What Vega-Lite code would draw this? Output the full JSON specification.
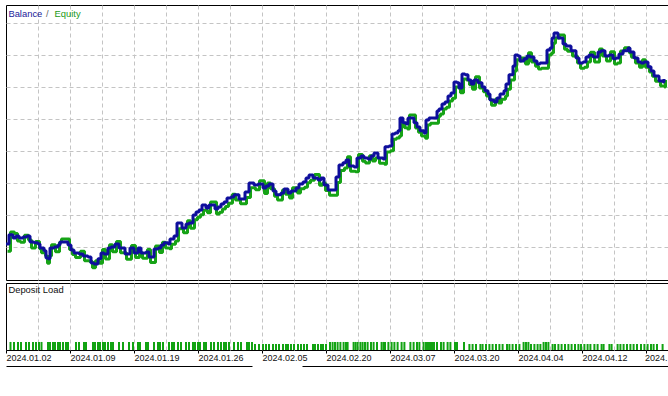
{
  "$schema": "https://vega.github.io/schema/vega-lite/v6.json",
  "padding": {"left": 5, "top": 4, "right": 0, "bottom": 0},
  "background": "white",
  "spacing": 1,
  "config": {
    "view": {"stroke": "#000000", "strokeWidth": 1},
    "axis": {"gridColor": "#c4c4c4", "gridDash": [4, 3], "gridWidth": 1, "labelOverlap": false},
    "scale": {"continuousPadding": 0},
    "font": "Liberation Sans"
  },
  "resolve": {"scale": {"x": "independent", "y": "independent", "color": "independent"}, "legend": {"color": "independent"}},
  "datasets": {
    "curve": [
      {"t":0,"b":10109,"e":10090},{"t":1.5,"b":10138,"e":10150},{"t":3.5,"b":10128,"e":10145},{"t":5,"b":10134,"e":10122},
      {"t":6.5,"b":10128,"e":10118},{"t":8.5,"b":10131,"e":10140},{"t":10.5,"b":10134,"e":10125},{"t":12,"b":10116,"e":10100},
      {"t":14,"b":10113,"e":10120},{"t":16,"b":10109,"e":10098},{"t":17,"b":10097,"e":10085},{"t":19,"b":10088,"e":10075},
      {"t":20,"b":10066,"e":10052},{"t":21,"b":10063,"e":10075},{"t":22,"b":10097,"e":10110},{"t":24,"b":10100,"e":10088},
      {"t":26,"b":10106,"e":10118},{"t":27,"b":10116,"e":10128},{"t":31,"b":10106,"e":10095},{"t":32.5,"b":10091,"e":10080},
      {"t":34,"b":10081,"e":10070},{"t":36.5,"b":10078,"e":10090},{"t":38.5,"b":10072,"e":10060},{"t":41,"b":10069,"e":10058},
      {"t":42.5,"b":10050,"e":10038},{"t":44,"b":10047,"e":10060},{"t":46,"b":10063,"e":10052},{"t":47.5,"b":10081,"e":10095},
      {"t":49,"b":10078,"e":10066},{"t":51,"b":10097,"e":10110},{"t":52.5,"b":10100,"e":10088},{"t":54.5,"b":10109,"e":10120},
      {"t":56.5,"b":10097,"e":10085},{"t":59.5,"b":10078,"e":10065},{"t":62,"b":10097,"e":10108},{"t":64,"b":10081,"e":10070},
      {"t":66,"b":10097,"e":10085},{"t":67.5,"b":10081,"e":10068},{"t":70,"b":10084,"e":10095},{"t":71.5,"b":10069,"e":10055},
      {"t":74,"b":10094,"e":10106},{"t":76,"b":10097,"e":10086},{"t":77.5,"b":10106,"e":10118},{"t":79,"b":10113,"e":10100},
      {"t":81,"b":10109,"e":10098},{"t":82,"b":10125,"e":10112},{"t":84,"b":10134,"e":10122},{"t":85.5,"b":10175,"e":10160},
      {"t":88,"b":10159,"e":10148},{"t":90,"b":10172,"e":10185},{"t":91.5,"b":10175,"e":10162},{"t":93.5,"b":10200,"e":10188},
      {"t":95,"b":10209,"e":10196},{"t":96.5,"b":10216,"e":10204},{"t":98,"b":10231,"e":10218},{"t":100,"b":10222,"e":10210},
      {"t":101.5,"b":10231,"e":10244},{"t":104.5,"b":10219,"e":10206},{"t":106,"b":10225,"e":10212},{"t":107.5,"b":10234,"e":10222},
      {"t":109,"b":10241,"e":10230},{"t":110.5,"b":10253,"e":10240},{"t":112.5,"b":10256,"e":10268},{"t":114,"b":10263,"e":10250},
      {"t":116.5,"b":10250,"e":10238},{"t":119.5,"b":10272,"e":10258},{"t":121.5,"b":10300,"e":10288},{"t":124,"b":10294,"e":10282},
      {"t":126,"b":10297,"e":10310},{"t":128.5,"b":10284,"e":10270},{"t":130,"b":10291,"e":10303},{"t":131.5,"b":10297,"e":10285},
      {"t":133.5,"b":10275,"e":10262},{"t":135,"b":10263,"e":10250},{"t":137.5,"b":10269,"e":10281},{"t":139,"b":10281,"e":10268},
      {"t":141,"b":10269,"e":10256},{"t":142.5,"b":10275,"e":10288},{"t":145,"b":10284,"e":10272},{"t":146.5,"b":10297,"e":10285},
      {"t":148.5,"b":10303,"e":10290},{"t":150,"b":10316,"e":10304},{"t":151.5,"b":10325,"e":10312},{"t":153.5,"b":10316,"e":10330},
      {"t":156,"b":10309,"e":10296},{"t":157.5,"b":10316,"e":10303},{"t":159,"b":10294,"e":10280},{"t":161,"b":10278,"e":10265},
      {"t":165,"b":10319,"e":10305},{"t":166.5,"b":10356,"e":10342},{"t":168.5,"b":10363,"e":10350},{"t":170,"b":10372,"e":10385},
      {"t":171.5,"b":10353,"e":10340},{"t":174,"b":10350,"e":10338},{"t":175.5,"b":10378,"e":10392},{"t":177.5,"b":10384,"e":10371},
      {"t":179,"b":10378,"e":10366},{"t":181,"b":10375,"e":10388},{"t":182.5,"b":10384,"e":10372},{"t":184,"b":10394,"e":10381},
      {"t":186,"b":10378,"e":10365},{"t":188.5,"b":10375,"e":10362},{"t":189.5,"b":10413,"e":10400},{"t":191.5,"b":10416,"e":10404},
      {"t":193,"b":10453,"e":10440},{"t":194.5,"b":10456,"e":10444},{"t":196,"b":10463,"e":10450},{"t":197,"b":10503,"e":10490},
      {"t":198.5,"b":10488,"e":10476},{"t":200,"b":10484,"e":10472},{"t":201,"b":10503,"e":10516},{"t":204,"b":10488,"e":10475},
      {"t":205.5,"b":10475,"e":10462},{"t":207,"b":10463,"e":10450},{"t":209,"b":10456,"e":10443},{"t":210,"b":10497,"e":10484},
      {"t":211.5,"b":10503,"e":10490},{"t":215.5,"b":10525,"e":10512},{"t":216.5,"b":10531,"e":10519},{"t":218,"b":10547,"e":10534},
      {"t":219.5,"b":10553,"e":10540},{"t":221,"b":10572,"e":10559},{"t":222.5,"b":10581,"e":10568},{"t":224,"b":10616,"e":10603},
      {"t":225.5,"b":10613,"e":10600},{"t":226.5,"b":10597,"e":10585},{"t":228,"b":10641,"e":10628},{"t":229.5,"b":10638,"e":10625},
      {"t":231,"b":10622,"e":10610},{"t":232.5,"b":10609,"e":10596},{"t":234,"b":10622,"e":10635},{"t":236,"b":10613,"e":10600},
      {"t":238,"b":10600,"e":10588},{"t":239.5,"b":10588,"e":10575},{"t":241,"b":10578,"e":10565},{"t":242,"b":10559,"e":10546},
      {"t":244,"b":10553,"e":10566},{"t":245.5,"b":10566,"e":10553},{"t":247,"b":10578,"e":10565},{"t":249,"b":10588,"e":10575},
      {"t":250,"b":10609,"e":10596},{"t":251.5,"b":10638,"e":10625},{"t":253.5,"b":10666,"e":10653},{"t":254.5,"b":10700,"e":10688},
      {"t":256,"b":10697,"e":10684},{"t":257,"b":10681,"e":10694},{"t":259,"b":10688,"e":10675},{"t":260.5,"b":10697,"e":10710},
      {"t":262,"b":10694,"e":10681},{"t":264,"b":10681,"e":10668},{"t":265.5,"b":10672,"e":10659},{"t":267,"b":10675,"e":10662},
      {"t":270.5,"b":10716,"e":10703},{"t":272,"b":10722,"e":10709},{"t":273,"b":10753,"e":10740},{"t":274,"b":10769,"e":10756},
      {"t":276,"b":10753,"e":10766},{"t":278.5,"b":10734,"e":10721},{"t":280,"b":10728,"e":10715},{"t":282.5,"b":10713,"e":10700},
      {"t":285,"b":10691,"e":10678},{"t":286.5,"b":10675,"e":10662},{"t":288.5,"b":10678,"e":10665},{"t":290,"b":10694,"e":10681},
      {"t":291.5,"b":10700,"e":10712},{"t":293.5,"b":10694,"e":10681},{"t":296,"b":10709,"e":10722},{"t":297.5,"b":10713,"e":10700},
      {"t":299.5,"b":10697,"e":10684},{"t":301.5,"b":10700,"e":10713},{"t":303.5,"b":10688,"e":10675},{"t":305,"b":10691,"e":10678},
      {"t":306.5,"b":10703,"e":10716},{"t":308.5,"b":10713,"e":10726},{"t":311,"b":10722,"e":10709},{"t":312,"b":10709,"e":10696},
      {"t":314,"b":10691,"e":10678},{"t":316,"b":10678,"e":10665},{"t":317.5,"b":10675,"e":10688},{"t":319,"b":10678,"e":10665},
      {"t":321,"b":10663,"e":10650},{"t":322.5,"b":10650,"e":10637},{"t":324,"b":10634,"e":10621},{"t":326.5,"b":10619,"e":10606},
      {"t":328.5,"b":10616,"e":10603},{"t":329,"b":10625,"e":10625}
    ],
    "load": [
      {"t":2.25,"load":12},{"t":4,"load":12},{"t":6,"load":12},{"t":7.5,"load":12},{"t":10,"load":12},{"t":11.5,"load":12},
      {"t":13.5,"load":12},{"t":15,"load":12},{"t":16.5,"load":12},{"t":17.75,"load":12},{"t":21,"load":12},{"t":22,"load":12},
      {"t":23.5,"load":12},{"t":24.5,"load":12},{"t":26,"load":12},{"t":27,"load":12},{"t":28.5,"load":12},{"t":30,"load":12},
      {"t":31,"load":12},{"t":35,"load":12},{"t":36.5,"load":12},{"t":39,"load":12},{"t":40,"load":12},{"t":43.5,"load":12},
      {"t":44.5,"load":12},{"t":46,"load":12},{"t":47,"load":12},{"t":48.5,"load":12},{"t":49.5,"load":12},{"t":51,"load":12},
      {"t":52.5,"load":12},{"t":53.5,"load":12},{"t":56.5,"load":12},{"t":58.5,"load":12},{"t":61.5,"load":12},{"t":63.5,"load":12},
      {"t":66,"load":12},{"t":67,"load":12},{"t":70,"load":12},{"t":71,"load":12},{"t":74,"load":12},{"t":76,"load":12},
      {"t":77,"load":12},{"t":78.5,"load":12},{"t":81.5,"load":12},{"t":83,"load":12},{"t":84,"load":12},{"t":86,"load":12},
      {"t":87.5,"load":12},{"t":90,"load":12},{"t":91.5,"load":12},{"t":93.5,"load":12},{"t":94.5,"load":12},{"t":96,"load":12},
      {"t":97,"load":12},{"t":99,"load":12},{"t":100,"load":12},{"t":102.5,"load":12},{"t":104,"load":12},{"t":106,"load":12},
      {"t":107.5,"load":12},{"t":109,"load":12},{"t":110,"load":12},{"t":111.5,"load":12},{"t":114,"load":12},{"t":116,"load":12},
      {"t":117.5,"load":12},{"t":120.5,"load":12},{"t":121.5,"load":12},{"t":123,"load":12},
      {"t":124.5,"load":9},{"t":126.5,"load":9},{"t":128.5,"load":9},{"t":130,"load":9},{"t":131.5,"load":9},{"t":133.5,"load":9},
      {"t":135,"load":9},{"t":136.5,"load":9},{"t":138.5,"load":9},{"t":140,"load":9},{"t":141,"load":9},{"t":142.5,"load":9},
      {"t":144,"load":9},{"t":146,"load":9},{"t":147.5,"load":9},{"t":149,"load":9},{"t":150.5,"load":9},{"t":153.5,"load":9},
      {"t":154.5,"load":9},{"t":156,"load":9},{"t":157.5,"load":9},{"t":158.5,"load":9},{"t":160,"load":9},
      {"t":162,"load":12},{"t":163.3,"load":12},{"t":164.5,"load":12},{"t":165.8,"load":12},{"t":167.2,"load":12},{"t":168.8,"load":12},
      {"t":170,"load":12},{"t":170.8,"load":12},{"t":173.8,"load":12},{"t":174.8,"load":12},{"t":175.8,"load":12},{"t":177.2,"load":12},
      {"t":178.3,"load":12},{"t":179.5,"load":12},{"t":180.8,"load":12},{"t":182.5,"load":12},{"t":183.8,"load":12},{"t":185.5,"load":12},
      {"t":187.8,"load":12},{"t":188.8,"load":12},{"t":189.5,"load":12},{"t":191.2,"load":12},{"t":192.8,"load":12},{"t":194.2,"load":12},
      {"t":195.8,"load":12},{"t":197.8,"load":12},{"t":199.2,"load":12},{"t":202.2,"load":12},{"t":203.8,"load":12},{"t":205.5,"load":12},
      {"t":206.7,"load":12},{"t":208.8,"load":12},{"t":210,"load":12},{"t":211,"load":12},{"t":212,"load":12},{"t":213,"load":12},
      {"t":214,"load":12},{"t":215.5,"load":12},{"t":217.5,"load":12},{"t":218.8,"load":12},{"t":220.8,"load":12},{"t":222.2,"load":12},
      {"t":224.5,"load":12},{"t":225.5,"load":12},{"t":229,"load":12},
      {"t":231.7,"load":9},{"t":233.3,"load":9},{"t":235,"load":9},{"t":237.2,"load":9},{"t":238.3,"load":9},{"t":240,"load":9},
      {"t":241.7,"load":9},{"t":243.3,"load":9},{"t":245,"load":9},{"t":246.7,"load":9},{"t":248.3,"load":9},{"t":250.5,"load":9},
      {"t":251.7,"load":9},{"t":253.3,"load":9},{"t":255,"load":9},{"t":256.7,"load":9},{"t":258.8,"load":12},{"t":260,"load":12},
      {"t":261.2,"load":12},{"t":262.5,"load":9},{"t":264.2,"load":9},{"t":265.8,"load":9},{"t":267.2,"load":9},{"t":268.8,"load":12},
      {"t":270,"load":12},{"t":271.2,"load":12},{"t":273.3,"load":9},{"t":274.5,"load":9},{"t":276.2,"load":9},{"t":277.8,"load":9},
      {"t":279.5,"load":9},{"t":281.2,"load":9},{"t":282.8,"load":9},{"t":284.5,"load":9},{"t":286.2,"load":9},{"t":287.5,"load":9},
      {"t":289.2,"load":9},{"t":290.8,"load":9},{"t":292.2,"load":9},{"t":294.2,"load":9},{"t":295.8,"load":9},{"t":297.8,"load":9},
      {"t":298.8,"load":9},{"t":301.7,"load":9},{"t":302.8,"load":9},{"t":305.8,"load":9},{"t":307.2,"load":9},{"t":308.8,"load":9},
      {"t":310.5,"load":9},{"t":312.2,"load":9},{"t":313.8,"load":9},{"t":315.5,"load":9},{"t":317.5,"load":9},{"t":319.2,"load":9},
      {"t":320.8,"load":9},{"t":322.5,"load":9},{"t":323.8,"load":9},{"t":325.5,"load":9},{"t":328.3,"load":9}
    ]
  },
  "vconcat": [
    {
      "width": 662,
      "height": 275,
      "data": {"name": "curve"},
      "encoding": {
        "x": {
          "field": "t", "type": "quantitative",
          "scale": {"domain": [0, 331], "nice": false, "zero": false, "padding": 0},
          "axis": {"values": [16,32,48,64,80,96,112,128,144,160,176,192,208,224,240,256,272,288,304,320], "tickCount": 100, "grid": true, "domain": false, "ticks": false, "labels": false, "labelOverlap": false, "title": null}
        }
      },
      "layer": [
        {
          "mark": {"type": "line", "interpolate": "step-after", "strokeWidth": 3, "xOffset": 1.5, "yOffset": 1, "clip": true, "strokeJoin": "bevel"},
          "encoding": {
            "y": {
              "field": "e", "type": "quantitative",
              "scale": {"domain": [9996.875, 10856.25], "nice": false, "zero": false},
              "axis": {"values": [10100,10200,10300,10400,10500,10600,10700,10800], "tickCount": 100, "grid": true, "domain": false, "ticks": false, "labels": false, "labelOverlap": false, "title": null}
            },
            "color": {
              "datum": "Equity", "type": "nominal",
              "scale": {"domain": ["Balance", "/", "Equity"], "range": ["#0e0e9c", "#777777", "#16a316"]},
              "legend": {
                "orient": "none", "legendX": 3, "legendY": 4, "direction": "horizontal", "padding": 0,
                "symbolType": "circle", "symbolSize": 0.01, "symbolStrokeWidth": 0, "symbolOpacity": 0, "labelOffset": -10,
                "columnPadding": 2.6, "labelFontSize": 9.4, "labelFont": "Liberation Sans", "title": null,
                "encode": {"labels": {"update": {"fill": {"signal": "datum.value === 'Balance' ? '#22229a' : datum.value === '/' ? '#666666' : '#1a9a1a'"}}}}
              }
            }
          }
        },
        {
          "mark": {"type": "line", "interpolate": "step-after", "strokeWidth": 3, "clip": true, "strokeJoin": "bevel"},
          "encoding": {
            "y": {"field": "b", "type": "quantitative"},
            "color": {"datum": "Balance", "type": "nominal"}
          }
        }
      ]
    },
    {
      "width": 662,
      "height": 67,
      "data": {"name": "load"},
      "layer": [
        {
          "mark": {"type": "bar", "size": 2},
          "encoding": {
            "x": {
              "field": "t", "type": "quantitative",
              "scale": {"domain": [0, 331], "nice": false, "zero": false, "padding": 0},
              "axis": {
                "values": [0,16,32,48,64,80,96,112,128,144,160,176,192,208,224,240,256,272,288,304,320],
                "tickCount": 100,
                "grid": true,
                "gridOpacity": {"condition": {"test": "datum.value === 0", "value": 0}, "value": 1},
                "domain": false, "ticks": true, "tickColor": "#000000", "tickSize": 3,
                "tickOpacity": {"condition": {"test": "datum.value % 32 === 0", "value": 1}, "value": 0},
                "labelExpr": "datum.value % 32 ? '' : ['2024.01.02','2024.01.09','2024.01.19','2024.01.26','2024.02.05','2024.02.20','2024.03.07','2024.03.20','2024.04.04','2024.04.12','2024.'][datum.value / 32]",
                "labelOffset": {"condition": {"test": "datum.value === 320", "value": -1.5}, "value": 0},
                "labelAlign": "left", "labelFontSize": 9, "labelFont": "Liberation Sans", "labelColor": "#111111",
                "labelPadding": 0, "labelOverlap": false, "labelFlush": false, "labelBound": false, "title": null
              }
            },
            "y": {"field": "load", "type": "quantitative", "scale": {"domain": [0, 100], "nice": false}, "axis": null},
            "color": {
              "datum": "Deposit Load", "type": "nominal",
              "scale": {"range": ["#12a312"]},
              "legend": {
                "orient": "none", "legendX": 3, "legendY": 2, "padding": 0,
                "symbolType": "circle", "symbolSize": 0.01, "symbolStrokeWidth": 0, "symbolOpacity": 0, "labelOffset": -10,
                "labelFontSize": 9.4, "labelFont": "Liberation Sans", "labelColor": "#111111", "title": null
              }
            }
          }
        },
        {
          "mark": {"type": "point", "opacity": 0},
          "encoding": {
            "x": {
              "field": "t", "type": "quantitative",
              "axis": {"orient": "bottom", "offset": 16, "tickCount": 2, "grid": false, "ticks": false, "labels": false, "domain": true, "domainColor": "#000000", "domainWidth": 1, "domainDash": [246, 50, 1000], "title": null}
            },
            "y": {"field": "load", "type": "quantitative", "axis": null}
          }
        }
      ],
      "resolve": {"axis": {"x": "independent"}}
    }
  ]
}
